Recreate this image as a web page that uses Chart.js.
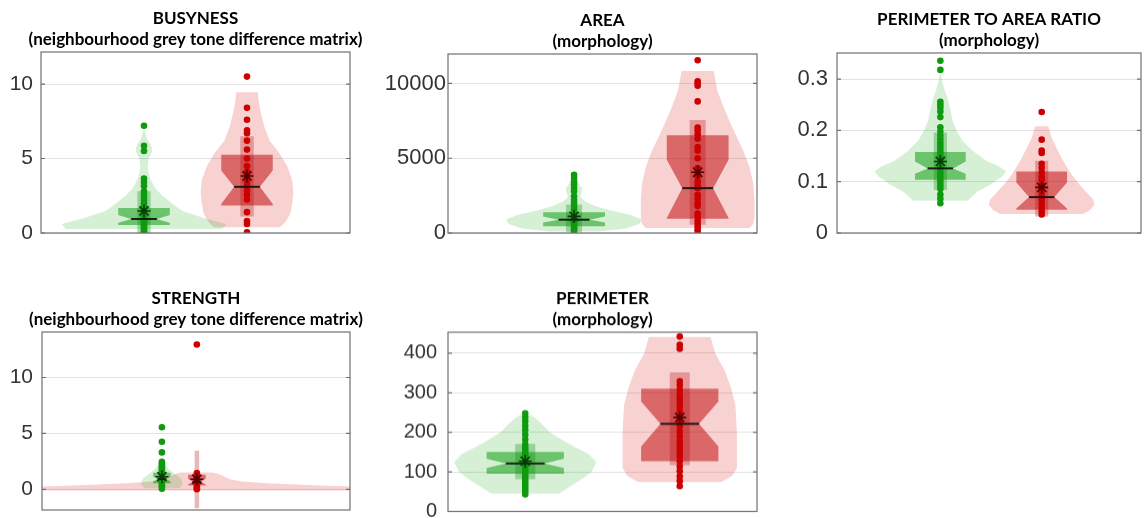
<!DOCTYPE html>
<html>
<head>
<meta charset="utf-8">
<script src="https://cdn.jsdelivr.net/npm/chart.js@4.4.1/dist/chart.umd.min.js"></script>
<style>
  html, body { margin: 0; padding: 0; background: #fff; width: 1148px; height: 518px; overflow: hidden; }
  .panel { position: absolute; }
</style>
</head>
<body>
<script>
// ---- BUSYNESS ----
const busyTicks = [0, 5, 10];
const busyGreenPts = [7.2, 5.85, 5.5, 3.65, 3.4, 3.15, 2.8, 2.6, 2.4, 2.2, 2.0, 1.85, 1.7, 1.55, 1.4, 1.3, 1.2, 1.1, 1.0, 0.9, 0.8, 0.7, 0.6, 0.5, 0.4, 0.3, 0.2, 0.1, 0.05];
const busyRedPts = [10.5, 8.4, 7.6, 6.9, 6.7, 6.2, 5.6, 5.0, 4.5, 4.1, 3.8, 3.45, 3.15, 2.85, 2.55, 2.25, 1.4, 0.8, 0.6, 0.05];
const busyGreenViolinY = [0.27, 0.6, 1.0, 1.5, 2.0, 2.5, 3.0, 3.5, 4.0, 4.5, 5.0, 5.4, 5.7, 6.0, 6.4, 7.0];
const busyGreenViolinW = [0.76, 0.80, 0.58, 0.37, 0.27, 0.18, 0.11, 0.07, 0.045, 0.035, 0.045, 0.075, 0.08, 0.06, 0.025, 0.005];
const busyRedViolinY = [0.38, 0.7, 1.3, 2.0, 2.7, 3.5, 4.5, 5.4, 6.2, 7.1, 8.2, 9.0, 9.45];
const busyRedViolinW = [0.32, 0.37, 0.42, 0.44, 0.45, 0.44, 0.39, 0.31, 0.22, 0.17, 0.13, 0.11, 0.105];
const busyGreenBox = [0.54, 0.68, 0.94, 1.2, 1.68];   // q1, notch low, median, notch high, q3
const busyRedBox = [1.85, 1.95, 3.1, 4.2, 5.25];
const busyGreenBar = [0.0, 2.8];
const busyRedBar = [1.1, 6.5];
const busyMeans = [1.48, 3.83];

// ---- AREA ----
const areaTicks = [0, 5000, 10000];
const areaGreenPts = [3900, 3700, 3450, 3250, 3000, 2800, 2450, 2200, 2000, 1800, 1600, 1450, 1300, 1150, 1000, 900, 800, 700, 600, 500, 400, 300, 200, 100];
const areaRedPts = [11550, 10150, 10000, 9850, 8800, 7050, 6850, 6600, 6300, 5750, 5500, 5000, 4350, 4100, 3800, 3450, 3200, 3000, 2550, 2300, 2000, 1800, 1300, 1100, 850, 650, 450, 250, 100];
const areaGreenViolinY = [100, 300, 600, 900, 1200, 1500, 1800, 2100, 2400, 2700, 3000, 3300, 3600, 3900];
const areaGreenViolinW = [0.2, 0.42, 0.53, 0.55, 0.46, 0.30, 0.17, 0.09, 0.05, 0.06, 0.065, 0.04, 0.02, 0.005];
const areaRedViolinY = [330, 600, 1100, 2200, 3300, 4400, 5500, 6700, 8200, 9500, 10840];
const areaRedViolinW = [0.42, 0.45, 0.46, 0.46, 0.45, 0.42, 0.37, 0.30, 0.22, 0.16, 0.13];
const areaGreenBox = [450, 700, 890, 1100, 1380];
const areaRedBox = [950, 1000, 3000, 4890, 6530];
const areaGreenBar = [50, 1900];
const areaRedBar = [550, 7550];
const areaMeans = [1110, 4060];

// ---- PERIMETER TO AREA RATIO ----
const ratioTicks = [0, 0.1, 0.2, 0.3];
const ratioGreenPts = [0.336, 0.318, 0.256, 0.25, 0.244, 0.237, 0.226, 0.206, 0.198, 0.19, 0.183, 0.176, 0.17, 0.164, 0.158, 0.152, 0.146, 0.14, 0.134, 0.128, 0.122, 0.116, 0.11, 0.104, 0.098, 0.092, 0.086, 0.075, 0.067, 0.058];
const ratioRedPts = [0.236, 0.182, 0.161, 0.156, 0.135, 0.127, 0.118, 0.11, 0.104, 0.094, 0.088, 0.081, 0.073, 0.065, 0.057, 0.049, 0.042, 0.036];
const ratioGreenViolinY = [0.063, 0.08, 0.095, 0.11, 0.12, 0.13, 0.14, 0.16, 0.18, 0.20, 0.22, 0.24, 0.26, 0.28, 0.30, 0.31];
const ratioGreenViolinW = [0.27, 0.36, 0.50, 0.61, 0.65, 0.58, 0.46, 0.32, 0.22, 0.16, 0.12, 0.10, 0.075, 0.04, 0.015, 0.005];
const ratioRedViolinY = [0.037, 0.045, 0.055, 0.065, 0.08, 0.095, 0.11, 0.125, 0.145, 0.165, 0.185, 0.208];
const ratioRedViolinW = [0.41, 0.48, 0.52, 0.51, 0.44, 0.37, 0.31, 0.26, 0.20, 0.15, 0.10, 0.065];
const ratioGreenBox = [0.104, 0.1155, 0.126, 0.1395, 0.158];
const ratioRedBox = [0.0454, 0.048, 0.070, 0.0986, 0.12];
const ratioGreenBar = [0.084, 0.196];
const ratioRedBar = [0.032, 0.141];
const ratioMeans = [0.1395, 0.0889];

// ---- STRENGTH ----
const strTicks = [0, 5, 10];
const strGreenPts = [5.55, 4.25, 3.3, 2.45, 2.3, 2.15, 2.0, 1.85, 1.7, 1.55, 1.4, 1.25, 1.1, 0.95, 0.8, 0.65, 0.5, 0.35, 0.2, 0.05];
const strRedPts = [12.95, 1.45, 1.3, 1.15, 1.0, 0.85, 0.7, 0.55, 0.4, 0.25, 0.1, 0.0];
const strGreenViolinY = [0.1, 0.5, 1.0, 1.4, 1.8, 2.2, 2.5];
const strGreenViolinW = [0.5, 0.6, 0.54, 0.36, 0.2, 0.1, 0.02];
const strRedViolinY = [-0.1, 0.25, 0.4, 0.55, 0.7, 0.9, 1.2, 1.4, 1.5];
const strRedViolinW = [9, 4.4, 3.0, 2.0, 1.3, 0.95, 0.75, 0.6, 0.45];
const strGreenBox = [0.54, 0.7, 0.92, 1.15, 1.48];
const strRedBox = [0.35, 0.42, 0.68, 0.95, 1.3];
const strGreenBar = [0.0, 2.45];
const strRedBar = [-1.7, 3.45];
const strMeans = [1.13, 0.9];

// ---- PERIMETER ----
const periTicks = [0, 100, 200, 300, 400];
const periGreenPts = [248, 238, 228, 217, 206, 194, 182, 170, 162, 155, 148, 141, 134, 127, 120, 113, 106, 99, 92, 85, 78, 71, 64, 57, 50, 43];
const periRedPts = [442, 421, 411, 329, 319, 307, 295, 284, 274, 263, 252, 240, 228, 215, 202, 190, 178, 169, 158, 148, 139, 127, 114, 102, 89, 77, 64];
const periGreenViolinY = [45, 60, 80, 100, 125, 145, 165, 185, 200, 220, 235, 245];
const periGreenViolinW = [0.22, 0.28, 0.36, 0.43, 0.46, 0.41, 0.31, 0.22, 0.16, 0.11, 0.07, 0.03];
const periRedViolinY = [74, 90, 110, 200, 270, 315, 357, 399, 441];
const periRedViolinW = [0.27, 0.34, 0.37, 0.37, 0.36, 0.33, 0.29, 0.23, 0.20];
const periGreenBox = [95, 110, 121, 133, 150.5];
const periRedBox = [127, 164.6, 221.6, 277.6, 310];
const periGreenBar = [81, 170.5];
const periRedBar = [117, 351.5];
const periMeans = [127, 237.5];

// ---- styling ----
const GREEN = { pt: '#0f9a0f', violin: 'rgba(0,160,0,0.16)', box: 'rgba(0,150,0,0.5)', bar: 'rgba(0,140,0,0.3)', mean: '#0a3a0a' };
const RED = { pt: '#cc0000', violin: 'rgba(215,0,0,0.18)', box: 'rgba(190,0,0,0.5)', bar: 'rgba(180,0,0,0.28)', mean: '#560000' };
const BOX_W = 0.25, NOTCH_W = 0.125, BAR_W = 0.065, MED_W = 0.125;
const TITLE_H = 52;

const framePlugin = {
  id: 'frame',
  afterDatasetsDraw(chart) {
    const { ctx, chartArea: a } = chart;
    const y = chart.scales.y;
    ctx.save();
    ctx.strokeStyle = '#707070';
    ctx.lineWidth = 1.2;
    ctx.strokeRect(a.left, a.top, a.right - a.left, a.bottom - a.top);
    ctx.beginPath();
    y.ticks.forEach(t => {
      const py = y.getPixelForValue(t.value);
      ctx.moveTo(a.left, py); ctx.lineTo(a.left + 4, py);
      ctx.moveTo(a.right, py); ctx.lineTo(a.right - 4, py);
    });
    ctx.stroke();
    ctx.restore();
  }
};

function violin(c, ys, ws) {
  const left = ys.map((y, i) => ({ x: c - ws[i], y }));
  const right = ys.map((y, i) => ({ x: c + ws[i], y })).reverse();
  return left.concat(right, [left[0]]);
}

function notchBox(c, b) {
  const [q1, nLo, med, nHi, q3] = b;
  return [
    { x: c - BOX_W, y: q1 }, { x: c - BOX_W, y: nLo }, { x: c - NOTCH_W, y: med },
    { x: c - BOX_W, y: nHi }, { x: c - BOX_W, y: q3 }, { x: c + BOX_W, y: q3 },
    { x: c + BOX_W, y: nHi }, { x: c + NOTCH_W, y: med }, { x: c + BOX_W, y: nLo },
    { x: c + BOX_W, y: q1 }, { x: c - BOX_W, y: q1 }
  ];
}

function bar(c, r) {
  return [
    { x: c - BAR_W, y: r[0] }, { x: c - BAR_W, y: r[1] },
    { x: c + BAR_W, y: r[1] }, { x: c + BAR_W, y: r[0] }, { x: c - BAR_W, y: r[0] }
  ];
}

function shape(data, color) {
  return { data, showLine: true, fill: 'shape', backgroundColor: color, borderWidth: 0, pointRadius: 0, tension: 0 };
}

function groupSets(c, g, col) {
  return {
    median: { data: [{ x: c - MED_W, y: g.box[2] }, { x: c + MED_W, y: g.box[2] }], showLine: true, borderColor: 'rgba(15,15,15,0.9)', borderWidth: 2, pointRadius: 0, fill: false },
    points: { data: g.pts.map(v => ({ x: c, y: v })), pointRadius: 3.3, pointBackgroundColor: col.pt, pointBorderWidth: 0 },
    bar: shape(bar(c, g.bar), col.bar),
    box: shape(notchBox(c, g.box), col.box),
    violin: shape(violin(c, g.vy, g.vw), col.violin)
  };
}

function panel(pos, title, ticks, yMin, yMax, xMin, xMax, green, red, means) {
  // room under the plot for half of the lowest tick label
  const bottomPad = Math.ceil(pos.tickSize * 0.6 + pos.tickPad) + 1;
  const wrap = document.createElement('div');
  wrap.className = 'panel';
  wrap.style.left = (pos.left - pos.axisW) + 'px';
  wrap.style.top = (pos.top - TITLE_H) + 'px';
  wrap.style.width = (pos.w + 2 * pos.axisW) + 'px';
  wrap.style.height = (TITLE_H + pos.h + bottomPad) + 'px';
  const canvas = document.createElement('canvas');
  wrap.appendChild(canvas);
  document.body.appendChild(wrap);

  const g = groupSets(1, green, GREEN);
  const r = groupSets(2, red, RED);
  const meanSet = {
    data: means.map((v, i) => ({ x: i + 1, y: v })),
    pointStyle: 'star', pointRadius: 6.5, pointBorderWidth: 1.6,
    pointBorderColor: [GREEN.mean, RED.mean], pointBackgroundColor: 'transparent'
  };

  new Chart(canvas, {
    type: 'scatter',
    data: {
      datasets: [meanSet, g.median, r.median, g.points, r.points, g.bar, r.bar, g.box, r.box, g.violin, r.violin]
    },
    options: {
      responsive: true,
      maintainAspectRatio: false,
      animation: false,
      events: [],
      layout: { padding: { left: 0, right: 0, top: 0, bottom: bottomPad } },
      plugins: {
        legend: { display: false },
        tooltip: { enabled: false },
        title: {
          display: true,
          text: title,
          color: '#000',
          font: { family: 'Lato, sans-serif', size: 17, weight: 'bold', lineHeight: '21px' },
          padding: { top: 8.5, bottom: 1.5 }
        }
      },
      scales: {
        x: { type: 'linear', min: xMin, max: xMax, display: false },
        y: {
          type: 'linear', min: yMin, max: yMax,
          afterBuildTicks: s => { s.ticks = ticks.map(v => ({ value: v })); },
          afterFit: s => { s.width = pos.axisW; },
          grid: { color: '#e2e2e2', lineWidth: 1, drawTicks: false },
          border: { display: false },
          ticks: {
            color: '#333',
            padding: pos.tickPad,
            font: { family: '"Liberation Sans", Arial, sans-serif', size: pos.tickSize },
            callback: v => String(v)
          }
        },
        yr: {
          type: 'linear', position: 'right',
          grid: { display: false }, border: { display: false }, ticks: { display: false },
          afterFit: s => { s.width = pos.axisW; }
        }
      }
    },
    plugins: [framePlugin]
  });
}

panel({ left: 41, top: 52, w: 309, h: 181, axisW: 41, tickSize: 21, tickPad: 8 },
  ['BUSYNESS', '(neighbourhood grey tone difference matrix)'], busyTicks, 0, 12.15, 0, 3,
  { pts: busyGreenPts, vy: busyGreenViolinY, vw: busyGreenViolinW, box: busyGreenBox, bar: busyGreenBar },
  { pts: busyRedPts, vy: busyRedViolinY, vw: busyRedViolinW, box: busyRedBox, bar: busyRedBar },
  busyMeans);

panel({ left: 448, top: 54, w: 309, h: 179, axisW: 78, tickSize: 22, tickPad: 2 },
  ['AREA', '(morphology)'], areaTicks, 0, 11970, -0.02, 2.48,
  { pts: areaGreenPts, vy: areaGreenViolinY, vw: areaGreenViolinW, box: areaGreenBox, bar: areaGreenBar },
  { pts: areaRedPts, vy: areaRedViolinY, vw: areaRedViolinW, box: areaRedBox, bar: areaRedBar },
  areaMeans);

panel({ left: 837, top: 53, w: 304, h: 180, axisW: 67, tickSize: 22, tickPad: 9 },
  ['PERIMETER TO AREA RATIO', '(morphology)'], ratioTicks, 0, 0.351, -0.02, 2.98,
  { pts: ratioGreenPts, vy: ratioGreenViolinY, vw: ratioGreenViolinW, box: ratioGreenBox, bar: ratioGreenBar },
  { pts: ratioRedPts, vy: ratioRedViolinY, vw: ratioRedViolinW, box: ratioRedBox, bar: ratioRedBar },
  ratioMeans);

panel({ left: 42, top: 332, w: 308, h: 178, axisW: 42, tickSize: 21, tickPad: 9 },
  ['STRENGTH', '(neighbourhood grey tone difference matrix)'], strTicks, -1.85, 14.07, -2.43, 6.38,
  { pts: strGreenPts, vy: strGreenViolinY, vw: strGreenViolinW, box: strGreenBox, bar: strGreenBar },
  { pts: strRedPts, vy: strRedViolinY, vw: strRedViolinW, box: strRedBox, bar: strRedBar },
  strMeans);

panel({ left: 448, top: 332, w: 309, h: 178.5, axisW: 68, tickSize: 20, tickPad: 11 },
  ['PERIMETER', '(morphology)'], periTicks, 0, 453, 0.5, 2.5,
  { pts: periGreenPts, vy: periGreenViolinY, vw: periGreenViolinW, box: periGreenBox, bar: periGreenBar },
  { pts: periRedPts, vy: periRedViolinY, vw: periRedViolinW, box: periRedBox, bar: periRedBar },
  periMeans);
</script>
</body>
</html>
